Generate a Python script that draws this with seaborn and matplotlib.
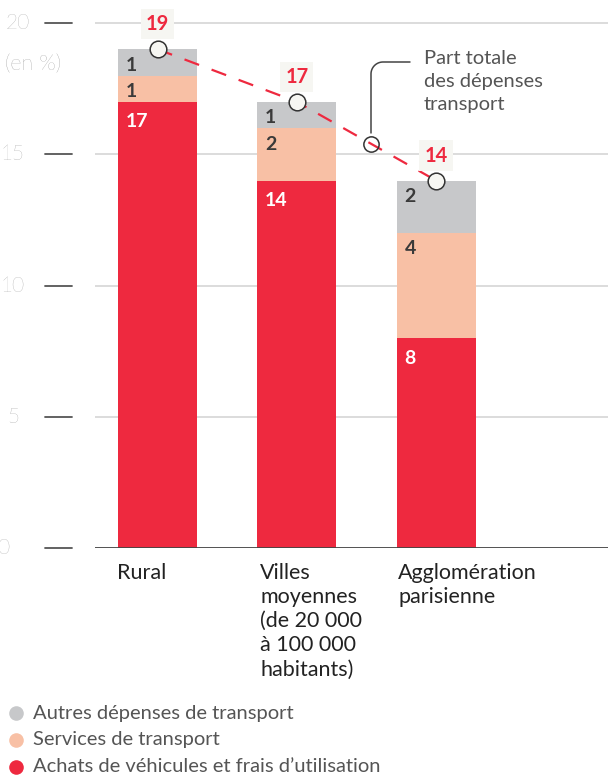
import matplotlib
matplotlib.use("Agg")
import matplotlib.pyplot as plt
import matplotlib.transforms as mtransforms
from matplotlib.lines import Line2D
import seaborn as sns
import pandas as pd
import numpy as np

sns.set_theme(style="white")
plt.rcParams['font.family'] = ['Lato', 'DejaVu Sans']

# ---------------- data ----------------
categories = ["Rural",
              "Villes\nmoyennes\n(de 20 000\nà 100 000\nhabitants)",
              "Agglomération\nparisienne"]
achats = [17, 14, 8]
services = [1, 2, 4]
autres = [1, 1, 2]
totals = [19, 17, 14]
series_names = ["Autres dépenses de transport",
                "Services de transport",
                "Achats de véhicules et frais d’utilisation"]
yticks = [0, 5, 10, 15, 20]
ytick_labels = ["0", "5", "10", "15", "20"]
annot_text = "Part totale\ndes dépenses\ntransport"

# ---------------- colours ----------------
RED = "#ee293f"
PEACH = "#f8c0a5"
GREY = "#c7c8ca"
DARK = "#3a3a3a"
TXT = "#555555"

W, H = 608, 776
fig = plt.figure(figsize=(W / 100, H / 100), dpi=100)
fig.patch.set_facecolor("white")

ax = fig.add_axes([95 / W, (H - 548) / H, 513 / W, 548 / H])
px_per_unit = 26.25
step = 139.25

df = pd.DataFrame({
    "cat": categories,
    "achats": achats,
    "services": services,
    "autres": autres,
})
df["c2"] = df["achats"] + df["services"]
df["c3"] = df["c2"] + df["autres"]

bw = 79 / step
sns.barplot(data=df, x="cat", y="c3", color=GREY, saturation=1, width=bw,
            ax=ax, zorder=2, linewidth=0)
sns.barplot(data=df, x="cat", y="c2", color=PEACH, saturation=1, width=bw,
            ax=ax, zorder=3, linewidth=0)
sns.barplot(data=df, x="cat", y="achats", color=RED, saturation=1, width=bw,
            ax=ax, zorder=4, linewidth=0)
ax.set_xlim(-(157.5 - 95) / step, (608 - 157.5) / step)
ax.set_ylim(0, 548 / px_per_unit)
ax.set_xticks([])
ax.set_yticks([])
ax.set_xlabel("")
ax.set_ylabel("")
ax.set_facecolor("none")
for s in ax.spines.values():
    s.set_visible(False)

# grid lines
for t in yticks:
    if t == 0:
        continue
    ax.axhline(t, color="#d6d6d6", lw=1.2, zorder=0)

# baseline
ax.axhline(0, color="#444444", lw=1.3, zorder=5)

# segment labels
for i in range(len(categories)):
    x_left = i - bw / 2 + 8 / step
    tops = [(df["c3"][i], str(autres[i]), DARK),
            (df["c2"][i], str(services[i]), DARK),
            (achats[i], str(achats[i]), "white")]
    for top, lab, col in tops:
        off = 16 if col != "white" else 20
        ax.annotate(lab, (x_left, top), xytext=(0, -off), textcoords="offset pixels",
                    ha="left", va="center", fontsize=14, fontweight="bold",
                    color=col, zorder=6)

# totals dashed line + circles
xs = np.arange(len(categories))
ax.plot(xs, totals, color=RED, lw=1.6, dashes=(7, 6), zorder=7)
ax.plot(xs, totals, ls="none", marker="o", ms=12, mfc="#f6f6f2", mec="#333333",
        mew=1.1, zorder=8)
for i, t in enumerate(totals):
    ax.annotate(str(t), (i, t), xytext=(0, 25), textcoords="offset pixels",
                ha="center", va="center", fontsize=14.5, fontweight="bold",
                color=RED, zorder=9,
                bbox=dict(boxstyle="square,pad=0.25", fc="#f6f6f2", ec="none"))

# annotation anchor on line
ax_x = (371 - 157.5) / step
ax_y = totals[1] + (totals[2] - totals[1]) * (ax_x - 1)
ax.plot([ax_x], [ax_y], ls="none", marker="o", ms=11, mfc="none", mec="#333333",
        mew=1.1, zorder=8)


def fy(p):
    return (H - p) / H


def fx(p):
    return p / W


lx = 371
r = 12
ang = np.linspace(0, np.pi / 2, 20)
path_x = [lx, lx] + list(lx + r - r * np.cos(ang)) + [410]
path_y = [133, 62 + r] + list(62 + r - r * np.sin(ang)) + [62]
fig.add_artist(Line2D([fx(v) for v in path_x], [fy(v) for v in path_y],
                      color="#444444", lw=1.1))
fig.text(fx(424), fy(50), annot_text, ha="left", va="top", fontsize=14.5,
         color=TXT, linespacing=1.42)

# y tick marks and labels
trans = mtransforms.blended_transform_factory(fig.transFigure, ax.transData)
label_right = {0: 9, 5: 19, 10: 25, 15: 25, 20: 30}
for t, lab in zip(yticks, ytick_labels):
    ax.add_line(Line2D([fx(45), fx(72)], [t, t], transform=trans,
                       color="#555555", lw=1.3, clip_on=False))
    ax.text(fx(label_right[t]), t, lab, transform=trans, ha="right",
            va="center", fontsize=15, color="#8a8a8a", fontweight="light",
            clip_on=False)

fig.text(fx(5), fy(64), "(en %)", ha="left", va="center", fontsize=15.5,
         color="#7a7a7a", fontweight="light")

# category labels
for i, c in enumerate(categories):
    left_px = [117, 260, 398][i]
    fig.text(fx(left_px), fy(563), c, ha="left", va="top", fontsize=15.5,
             color="#222222", linespacing=1.26)

# legend
leg_cols = [GREY, PEACH, RED]
for k, (name, col) in enumerate(zip(series_names, leg_cols)):
    yy = 713 + 27 * k
    fig.add_artist(Line2D([fx(16)], [fy(yy)], marker="o", ms=10.5, mfc=col,
                          mec="none", ls="none"))
    fig.text(fx(33), fy(yy), name, ha="left", va="center", fontsize=14.5,
             color="#555555")

fig.savefig("out.png", dpi=100)
